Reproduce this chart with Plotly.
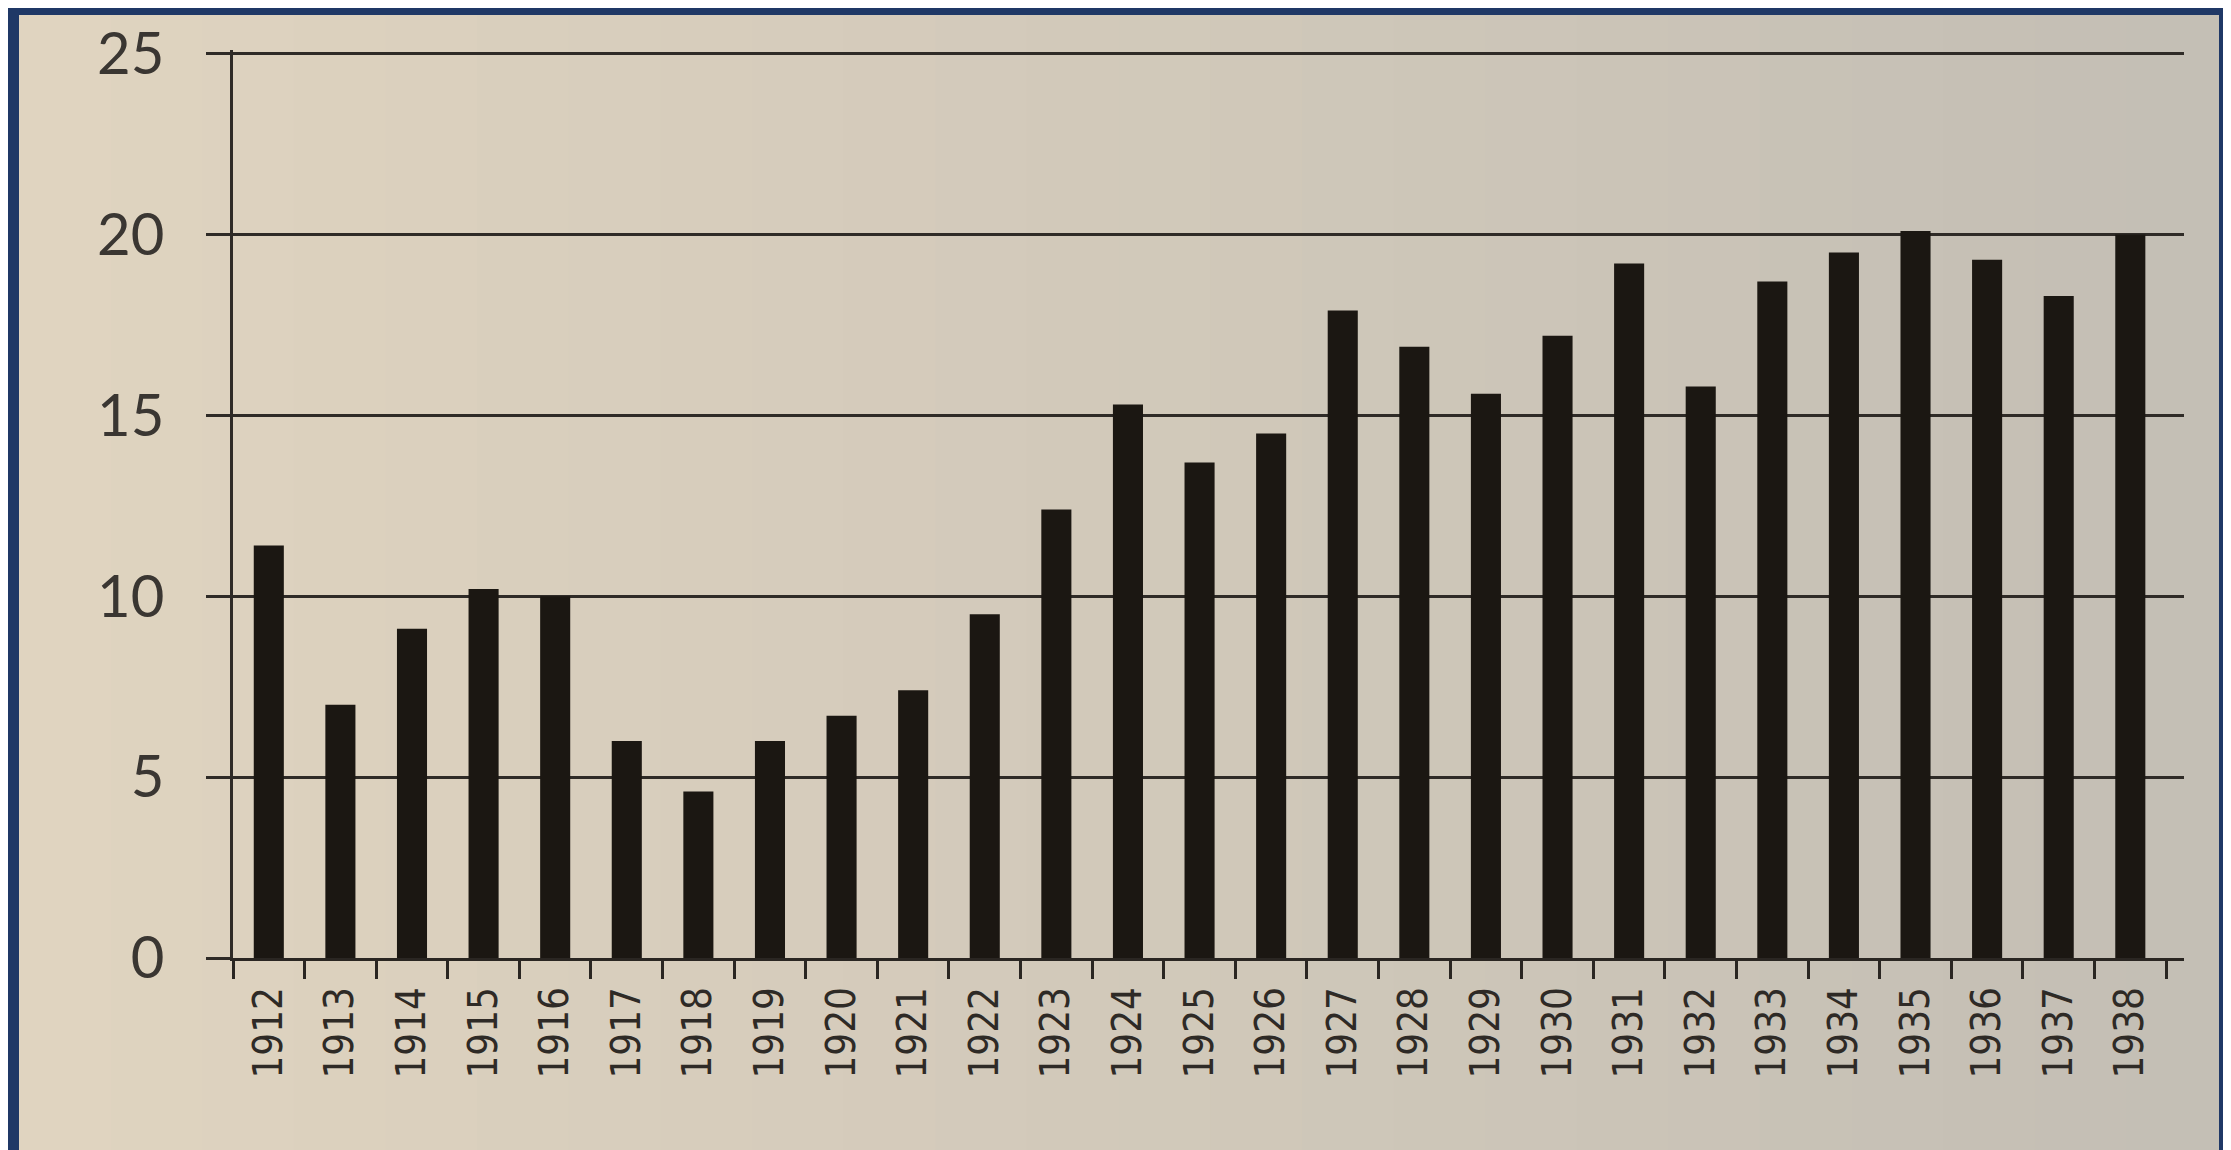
import plotly.graph_objects as go

years = [str(y) for y in range(1912, 1939)]
values = [11.4, 7.0, 9.1, 10.2, 10.0, 6.0, 4.6, 6.0, 6.7, 7.4, 9.5, 12.4, 15.3, 13.7, 14.5,
          17.9, 16.9, 15.6, 17.2, 19.2, 15.8, 18.7, 19.5, 20.1, 19.3, 18.3, 20.0]
y_ticks = [0, 5, 10, 15, 20, 25]

W, H = 2231, 1150
L, R, T, B = 225, 55, 42, 200
pw, ph = W - L - R, H - T - B

def px_to_paper_x(px):
    return (px - L) / pw

def px_to_paper_y(py):
    return (H - B - py) / ph

fig = go.Figure()
fig.add_trace(go.Bar(
    x=years, y=values, width=0.42,
    marker=dict(color="#1b1712", line=dict(width=0)),
    hoverinfo="x+y",
))

# paper background with a soft left-to-right gradient, navy frame around it
shapes = []
n = 24
x0p, x1p = 11, 2210
c0 = (224, 212, 192)
c1 = (196, 191, 181)
for i in range(n):
    a = x0p + (x1p - x0p) * i / n
    b = x0p + (x1p - x0p) * (i + 1) / n + 1
    t = i / (n - 1)
    col = tuple(int(c0[k] + (c1[k] - c0[k]) * t) for k in range(3))
    shapes.append(dict(type="rect", xref="paper", yref="paper",
                       x0=px_to_paper_x(a), x1=px_to_paper_x(b),
                       y0=px_to_paper_y(H + 5), y1=px_to_paper_y(7),
                       fillcolor="rgb(%d,%d,%d)" % col, line=dict(width=0),
                       layer="below"))

fig.update_layout(
    width=W, height=H,
    margin=dict(l=L, r=R, t=T, b=B, autoexpand=False),
    paper_bgcolor="#1f3866",
    plot_bgcolor="rgba(0,0,0,0)",
    showlegend=False,
    bargap=0.5,
    shapes=shapes,
    xaxis=dict(
        type="category",
        categoryorder="array", categoryarray=years,
        range=[-0.5, 26.75],
        automargin=False,
        showgrid=False,
        showline=True, linecolor="#2a2622", linewidth=3,
        ticks="outside", tickson="boundaries", ticklen=18, tickwidth=3, tickcolor="#2a2622",
        tickangle=-90,
        tickfont=dict(family="DejaVu Sans Condensed, Liberation Sans", size=40, color="#2e2a26"),
        ticklabelstandoff=10,
        zeroline=False,
    ),
    yaxis=dict(
        range=[0, 25.1],
        automargin=False,
        tickvals=y_ticks,
        ticktext=[str(v) for v in y_ticks],
        showgrid=True, gridcolor="#2f2b27", gridwidth=3,
        showline=True, linecolor="#2f2b27", linewidth=3,
        ticks="outside", ticklen=24, tickwidth=3, tickcolor="#2f2b27",
        tickfont=dict(family="Lato, Open Sans, DejaVu Sans", size=58, color="#3a3632"),
        ticklabelstandoff=30,
        ticklabeloverflow="allow",
        zeroline=False,
    ),
)

fig.write_html("out.html")
